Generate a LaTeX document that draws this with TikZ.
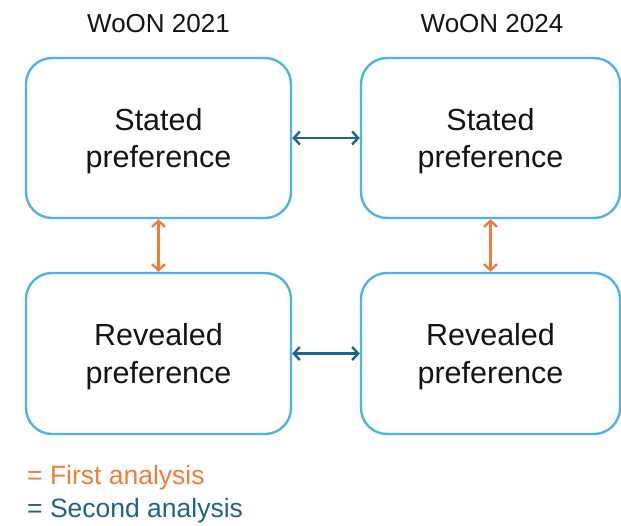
\documentclass[tikz,border=0pt]{standalone}
\usepackage{fontspec}
\setmainfont{Liberation Sans}
\usetikzlibrary{arrows.meta}
\definecolor{boxblue}{HTML}{4EB3E6}
\definecolor{orng}{HTML}{EE7D3A}
\definecolor{dblue}{HTML}{1F6587}
\begin{document}
\begin{tikzpicture}[x=1pt,y=-1pt,
  stbox/.style={draw=boxblue,line width=2.4pt,rounded corners=26pt},
  boxtext/.style={align=center,font=\fontsize{30.5}{37.5}\selectfont,text=black!92,yshift=-3pt},
  head/.style={font=\fontsize{26}{30}\selectfont,text=black!92},
  legend/.style={font=\fontsize{26.5}{30}\selectfont,anchor=west,inner sep=0pt},
  arr/.style={line width=2.4pt,{Straight Barb[length=6pt,width=13pt]}-{Straight Barb[length=6pt,width=13pt]}}]
\useasboundingbox (0,0) rectangle (621,525);
\node[head] (h1) at (158.5,24) {WoON 2021};
\node[head] (h2) at (492,24) {WoON 2024};
\node[stbox,minimum width=265pt,minimum height=160pt] (ls) at (158.5,138) {};
\node[stbox,minimum width=259pt,minimum height=160pt] (rs) at (490.5,138) {};
\node[stbox,minimum width=265pt,minimum height=161pt] (lr) at (158.5,353.5) {};
\node[stbox,minimum width=259pt,minimum height=161pt] (rr) at (490.5,353.5) {};
\node[boxtext] (lst) at (ls) {Stated\\preference};
\node[boxtext] (rst) at (rs) {Stated\\preference};
\node[boxtext] (lrt) at (lr) {Revealed\\preference};
\node[boxtext] (rrt) at (rr) {Revealed\\preference};
\draw[arr,dblue] (ls.east) -- (rs.west);
\draw[arr,dblue] (lr.east) -- (rr.west);
\draw[arr,orng] (ls.south) -- (lr.north);
\draw[arr,orng] (rs.south) -- (rr.north);
\node[legend,text=orng] (l1) at (27,478) {= First analysis};
\node[legend,text=dblue] (l2) at (27,511) {= Second analysis};
\end{tikzpicture}
\end{document}
